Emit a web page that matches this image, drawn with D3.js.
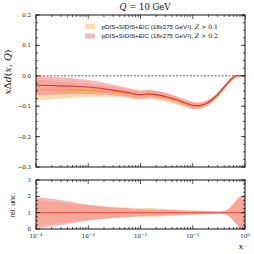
<!DOCTYPE html>
<html>
<head>
<meta charset="utf-8">
<script src="https://cdn.jsdelivr.net/npm/d3@7"></script>
<style>
  body { margin: 0; background: #fff; }
  text { fill: #111; }
</style>
</head>
<body>
<script>
"use strict";
// x grid shared by all curves
var xGrid = [1e-4, 2e-4, 5e-4, 1e-3, 2e-3, 5e-3, 1e-2, 1.5e-2, 2e-2, 3e-2, 5e-2, 0.08, 0.1, 0.13, 0.2, 0.3, 0.4, 0.5, 0.6, 0.7, 0.8, 0.9, 1.0];

// Z > 0.2 (red)
var redMid = [-0.031, -0.032, -0.034, -0.037, -0.043, -0.053, -0.062, -0.059, -0.062, -0.068, -0.079, -0.092, -0.097, -0.098, -0.087, -0.062, -0.037, -0.018, -0.005, 0, 0, 0, 0];
var redLo  = [-0.063, -0.062, -0.061, -0.060, -0.062, -0.068, -0.075, -0.071, -0.074, -0.080, -0.090, -0.103, -0.108, -0.108, -0.096, -0.070, -0.044, -0.025, -0.011, -0.004, -0.003, -0.002, 0];
var redHi  = [0.0, -0.003, -0.008, -0.014, -0.023, -0.038, -0.049, -0.047, -0.050, -0.056, -0.068, -0.081, -0.086, -0.088, -0.078, -0.054, -0.030, -0.011, 0.001, 0.004, 0.003, 0.002, 0];

// Z > 0.1 (orange)
var orgMid = [-0.046, -0.046, -0.047, -0.048, -0.051, -0.057, -0.063, -0.062, -0.065, -0.071, -0.082, -0.094, -0.098, -0.099, -0.088, -0.063, -0.038, -0.019, -0.006, 0, 0, 0, 0];
var orgLo  = [-0.080, -0.077, -0.073, -0.070, -0.069, -0.073, -0.079, -0.077, -0.080, -0.085, -0.095, -0.106, -0.110, -0.110, -0.097, -0.070, -0.044, -0.025, -0.011, -0.004, -0.003, -0.002, 0];
var orgHi  = [-0.013, -0.016, -0.021, -0.026, -0.033, -0.042, -0.048, -0.047, -0.050, -0.057, -0.069, -0.082, -0.086, -0.088, -0.079, -0.056, -0.032, -0.013, -0.001, 0.003, 0.002, 0.001, 0];

// relative uncertainty (bottom panel)
var redRelLo = [0.05, 0.15, 0.35, 0.52, 0.62, 0.72, 0.78, 0.80, 0.80, 0.82, 0.85, 0.87, 0.88, 0.89, 0.90, 0.93, 0.90, 0.75, 0.50, 0.25, 0.05, 0.0, 0.0];
var redRelHi = [1.95, 1.85, 1.65, 1.48, 1.38, 1.28, 1.22, 1.20, 1.20, 1.18, 1.15, 1.13, 1.12, 1.11, 1.10, 1.07, 1.10, 1.25, 1.50, 1.80, 2.00, 2.00, 2.05];
var orgRelLo = [0.25, 0.30, 0.45, 0.55, 0.62, 0.70, 0.75, 0.72, 0.74, 0.78, 0.82, 0.85, 0.87, 0.88, 0.90, 0.93, 0.92, 0.80, 0.50, 0.30, 0.15, 0.05, 0.0];
var orgRelHi = [1.75, 1.70, 1.55, 1.45, 1.38, 1.30, 1.25, 1.28, 1.26, 1.22, 1.18, 1.15, 1.13, 1.12, 1.10, 1.07, 1.10, 1.30, 1.60, 1.80, 1.90, 2.00, 2.00];

var legendLabels = ["pDIS+SIDIS+EIC (18x275 GeV\u00B2), ", "pDIS+SIDIS+EIC (18x275 GeV\u00B2), "];
var legendCuts = ["0.1", "0.2"];
var topTicks = [0.2, 0.1, 0.0, -0.1, -0.2, -0.3];
var botTicks = [0, 1, 2, 3];
var xTickExp = [-4, -3, -2, -1, 0];

var W = 254, H = 254,
    left = 36, right = 245,
    topY0 = 15, topY1 = 167,
    botY0 = 180, botY1 = 229;

var redLine = "#e3303a", redBand = "#ef7b84",
    orgLine = "#f39a1e", orgBand = "#fdb863";
var serif = "'DejaVu Serif', 'Liberation Serif', serif";
var sans = "'Liberation Sans', 'DejaVu Sans', sans-serif";

var svg = d3.select("body").append("svg")
    .attr("width", W).attr("height", H);

var x = d3.scaleLog().domain([1e-4, 1]).range([left, right]);
var yTop = d3.scaleLinear().domain([-0.3, 0.2]).range([topY1, topY0]);
var yBot = d3.scaleLinear().domain([0, 3]).range([botY1, botY0]);

function band(lo, hi, y) {
    return d3.area().curve(d3.curveMonotoneX)
        .x(function (d, i) { return x(xGrid[i]); })
        .y0(function (d, i) { return y(lo[i]); })
        .y1(function (d, i) { return y(hi[i]); })(xGrid);
}
function line(v, y) {
    return d3.line().curve(d3.curveMonotoneX)
        .x(function (d, i) { return x(xGrid[i]); })
        .y(function (d, i) { return y(v[i]); })(xGrid);
}

// clip paths
svg.append("clipPath").attr("id", "ctop").append("rect")
    .attr("x", left).attr("y", topY0).attr("width", right - left).attr("height", topY1 - topY0);
svg.append("clipPath").attr("id", "cbot").append("rect")
    .attr("x", left).attr("y", botY0).attr("width", right - left).attr("height", botY1 - botY0);

// top panel
var gt = svg.append("g").attr("clip-path", "url(#ctop)");
gt.append("line").attr("x1", left).attr("x2", right)
    .attr("y1", yTop(0)).attr("y2", yTop(0))
    .attr("stroke", "#222").attr("stroke-width", 0.7).attr("stroke-dasharray", "2,1.5");
gt.append("path").attr("d", band(orgLo, orgHi, yTop)).attr("fill", orgBand).attr("opacity", 0.5);
gt.append("path").attr("d", band(redLo, redHi, yTop)).attr("fill", redBand).attr("opacity", 0.55);
gt.append("path").attr("d", line(orgMid, yTop)).attr("fill", "none").attr("stroke", orgLine).attr("stroke-width", 1.1);
gt.append("path").attr("d", line(redMid, yTop)).attr("fill", "none").attr("stroke", redLine).attr("stroke-width", 1.1);

// bottom panel
var gb = svg.append("g").attr("clip-path", "url(#cbot)");
gb.append("path").attr("d", band(orgRelLo, orgRelHi, yBot)).attr("fill", orgBand).attr("opacity", 0.5);
gb.append("path").attr("d", band(redRelLo, redRelHi, yBot)).attr("fill", redBand).attr("opacity", 0.55);
gb.append("line").attr("x1", left).attr("x2", right)
    .attr("y1", yBot(1)).attr("y2", yBot(1))
    .attr("stroke", "#ec5a50").attr("stroke-width", 1.4);

// ticks, all inside on four sides
var minorX = [];
for (var e = -4; e < 0; e++) {
    for (var m = 2; m < 10; m++) minorX.push(m * Math.pow(10, e));
}
function frame(y0, y1, yScale, yMajor, yMinor) {
    var g = svg.append("g").attr("stroke", "#111").attr("stroke-width", 0.7);
    xTickExp.forEach(function (k) {
        var px = x(Math.pow(10, k));
        g.append("line").attr("x1", px).attr("x2", px).attr("y1", y1).attr("y2", y1 - 4);
        g.append("line").attr("x1", px).attr("x2", px).attr("y1", y0).attr("y2", y0 + 4);
    });
    minorX.forEach(function (v) {
        var px = x(v);
        g.append("line").attr("x1", px).attr("x2", px).attr("y1", y1).attr("y2", y1 - 2);
        g.append("line").attr("x1", px).attr("x2", px).attr("y1", y0).attr("y2", y0 + 2);
    });
    yMajor.forEach(function (v) {
        var py = yScale(v);
        g.append("line").attr("x1", left).attr("x2", left + 4).attr("y1", py).attr("y2", py);
        g.append("line").attr("x1", right).attr("x2", right - 4).attr("y1", py).attr("y2", py);
    });
    yMinor.forEach(function (v) {
        var py = yScale(v);
        g.append("line").attr("x1", left).attr("x2", left + 2).attr("y1", py).attr("y2", py);
        g.append("line").attr("x1", right).attr("x2", right - 2).attr("y1", py).attr("y2", py);
    });
    svg.append("rect").attr("x", left).attr("y", y0)
        .attr("width", right - left).attr("height", y1 - y0)
        .attr("fill", "none").attr("stroke", "#111").attr("stroke-width", 1);
}
frame(topY0, topY1, yTop, topTicks, d3.range(-0.3, 0.2001, 0.025));
frame(botY0, botY1, yBot, botTicks, d3.range(0, 3.001, 0.25));

// y tick labels
function fmt(v) { return (v < 0 ? "\u2212" : "") + Math.abs(v).toFixed(1); }
topTicks.forEach(function (v) {
    svg.append("text").attr("x", 31).attr("y", yTop(v) + 2)
        .attr("text-anchor", "end").attr("font-family", serif).attr("font-size", 5.5)
        .text(fmt(v));
});
botTicks.forEach(function (v) {
    svg.append("text").attr("x", 31).attr("y", yBot(v) + 2)
        .attr("text-anchor", "end").attr("font-family", serif).attr("font-size", 5.5)
        .text(v);
});
// x tick labels
xTickExp.forEach(function (k) {
    var t = svg.append("text").attr("x", x(Math.pow(10, k))).attr("y", 238)
        .attr("text-anchor", "middle").attr("font-family", serif).attr("font-size", 5.5);
    t.append("tspan").text("10");
    t.append("tspan").attr("dy", -2.5).attr("font-size", 4).text(k === 0 ? "0" : "\u2212" + Math.abs(k));
});

// axis titles
svg.append("text").attr("x", 241).attr("y", 249)
    .attr("text-anchor", "middle").attr("font-family", serif).attr("font-style", "italic")
    .attr("font-size", 8).text("x");
svg.append("text").attr("transform", "translate(11,72) rotate(-90)")
    .attr("text-anchor", "middle").attr("font-family", serif).attr("font-size", 9.5)
    .html("<tspan font-style='italic'>x</tspan>\u0394<tspan font-style='italic'>d</tspan>(<tspan font-style='italic'>x</tspan>, <tspan font-style='italic'>Q</tspan>)");
svg.append("text").attr("transform", "translate(15,205) rotate(-90)")
    .attr("text-anchor", "middle").attr("font-family", sans).attr("font-size", 7)
    .text("rel. unc.");

// title
var title = svg.append("text").attr("x", 145).attr("y", 10)
    .attr("text-anchor", "middle").attr("font-family", serif).attr("font-size", 8.5);
title.append("tspan").attr("font-style", "italic").text("Q");
title.append("tspan").text(" = 10 GeV");

// legend
[[orgBand, 0.5], [redBand, 0.55]].forEach(function (c, i) {
    var ly = 26.5 + i * 9.5;
    svg.append("rect").attr("x", 85).attr("y", ly - 2.5).attr("width", 10).attr("height", 5)
        .attr("fill", c[0]).attr("opacity", c[1]);
    var t = svg.append("text").attr("x", 101.5).attr("y", ly + 2)
        .attr("font-family", sans).attr("font-size", 6.2);
    t.append("tspan").text(legendLabels[i]);
    t.append("tspan").attr("font-family", serif).attr("font-style", "italic").text("Z");
    t.append("tspan").attr("font-family", serif).text(" > " + legendCuts[i]);
});
</script>
</body>
</html>
